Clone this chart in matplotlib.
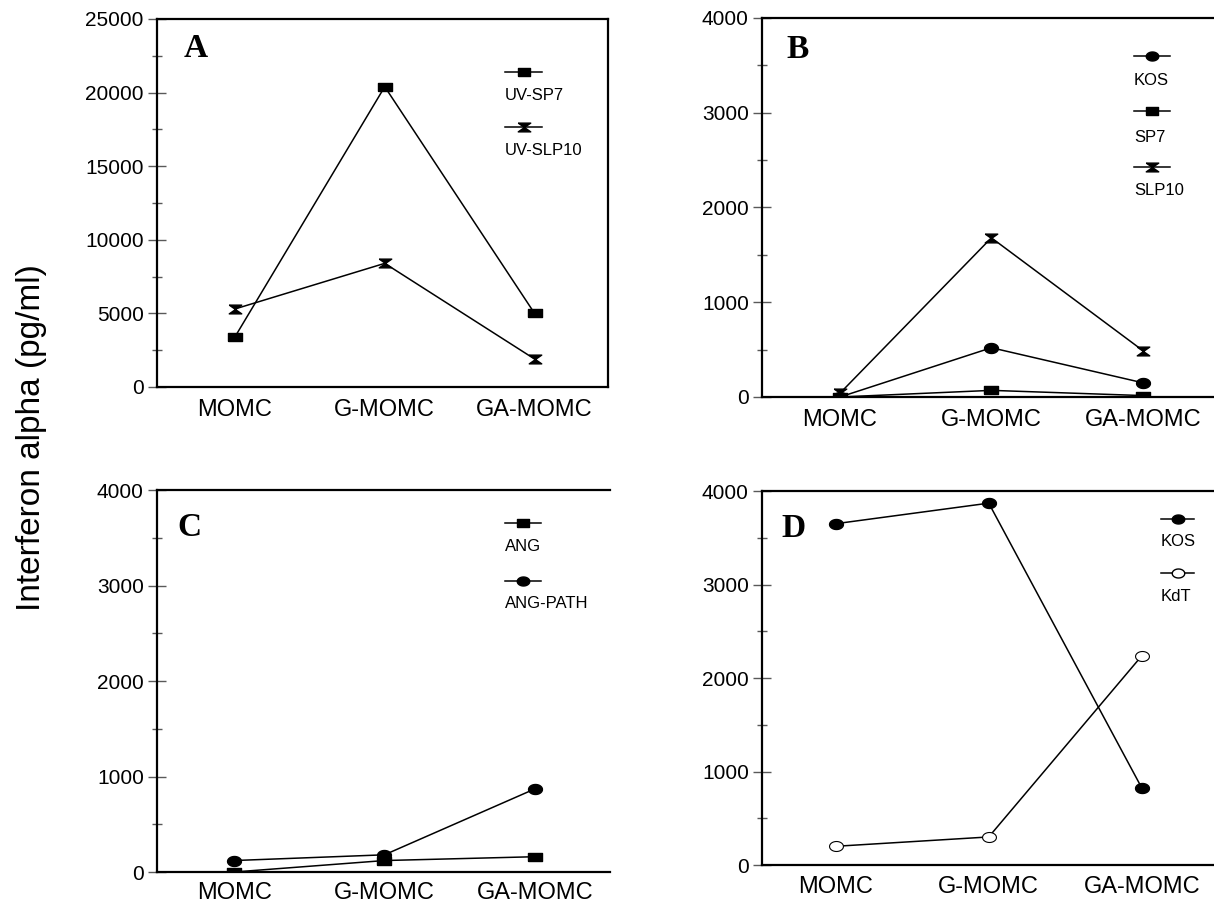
##libraries
import numpy as np
import matplotlib
matplotlib.use("Agg")
import matplotlib.pyplot as plt

plt.rcParams['font.family'] = ['Liberation Sans', 'DejaVu Sans']

##data (pg/ml)
groups = ['MOMC', 'G-MOMC', 'GA-MOMC']

a_uv_sp7 = [3400, 20400, 5000]
a_uv_slp10 = [5300, 8400, 1900]

b_kos = [0, 520, 150]
b_sp7 = [0, 70, 15]
b_slp10 = [40, 1680, 490]

c_ang = [0, 120, 160]
c_ang_path = [120, 180, 870]

d_kos = [3650, 3870, 820]
d_kdt = [200, 300, 2240]

##marker shapes
t = np.linspace(0, 2 * np.pi, 40)
oval = list(zip(np.cos(t), 0.72 * np.sin(t)))
box = [(-1, -0.62), (1, -0.62), (1, 0.62), (-1, 0.62), (-1, -0.62)]
hourglass = [(-1, 0.7), (1, 0.7), (-1, -0.7), (1, -0.7), (-1, 0.7)]

W, H = 1214, 905
fig = plt.figure(figsize=(W / 100, H / 100), dpi=100)


def make_ax(l, r, top, bot, ymax, step, xlim, right_spine, xpad=9):
    ax = fig.add_axes([l / W, 1 - bot / H, (r - l) / W, (bot - top) / H])
    ax.set_xlim(*xlim)
    ax.set_ylim(0, ymax)
    ax.set_yticks(np.arange(0, ymax + 1, step))
    ax.set_yticks(np.arange(step / 2, ymax, step), minor=True)
    ax.set_xticks(range(3))
    ax.set_xticklabels(groups)
    ax.tick_params(axis='x', length=0, pad=xpad, labelsize=17)
    ax.tick_params(axis='y', which='major', direction='inout', length=13,
                   width=1, color='0.35', labelsize=15, pad=3)
    ax.tick_params(axis='y', which='minor', direction='inout', length=7,
                   width=1, color='0.35')
    for s in ax.spines.values():
        s.set_linewidth(1.6)
    ax.spines['right'].set_visible(right_spine)
    return ax


def legend_entry(ax, x0, x1, y_line, y_text, label, marker, face='black', ms=9):
    ax.plot([x0, x1], [y_line, y_line], color='black', lw=1.1,
            transform=ax.transAxes, clip_on=False)
    ax.plot([(x0 + x1) / 2], [y_line], marker=marker, ms=ms, color='black',
            mfc=face, mew=1, transform=ax.transAxes, clip_on=False)
    ax.text(x0, y_text, label, transform=ax.transAxes, fontsize=12, va='center')


def panel_letter(ax, x0, y0, letter):
    ax.text(x0, y0, letter, transform=ax.transAxes, fontsize=24, fontweight='bold',
            family='Liberation Serif', va='center')


x = np.arange(3)
lw = 1.1

##panel A
ax = make_ax(157, 608, 19, 387, 25000, 5000, (-0.52, 2.49), True)
ax.plot(x, a_uv_sp7, color='black', lw=lw, marker=box, ms=10)
ax.plot(x, a_uv_slp10, color='black', lw=lw, marker=hourglass, ms=9)
panel_letter(ax, 0.058, 0.92, 'A')
legend_entry(ax, 0.772, 0.854, 0.856, 0.793, 'UV-SP7', box)
legend_entry(ax, 0.772, 0.854, 0.707, 0.644, 'UV-SLP10', hourglass)

##panel B
ax = make_ax(762, 1214, 18, 397, 4000, 1000, (-0.515, 2.47), False)
ax.plot(x, b_kos, color='black', lw=lw, marker=oval, ms=10)
ax.plot(x, b_sp7, color='black', lw=lw, marker=box, ms=10)
ax.plot(x, b_slp10, color='black', lw=lw, marker=hourglass, ms=9)
panel_letter(ax, 0.055, 0.918, 'B')
legend_entry(ax, 0.823, 0.903, 0.900, 0.836, 'KOS', oval)
legend_entry(ax, 0.823, 0.903, 0.755, 0.686, 'SP7', box)
legend_entry(ax, 0.823, 0.903, 0.607, 0.546, 'SLP10', hourglass)

##panel C
ax = make_ax(157, 610, 490, 872, 4000, 1000, (-0.513, 2.5), False, xpad=7)
ax.plot(x, c_ang, color='black', lw=lw, marker=box, ms=10)
ax.plot(x, c_ang_path, color='black', lw=lw, marker=oval, ms=10)
panel_letter(ax, 0.046, 0.903, 'C')
legend_entry(ax, 0.768, 0.848, 0.914, 0.851, 'ANG', box)
legend_entry(ax, 0.768, 0.848, 0.762, 0.702, 'ANG-PATH', oval)

##panel D
ax = make_ax(762, 1214, 491, 865, 4000, 1000, (-0.48, 2.47), False, xpad=8)
ax.plot(x, d_kos, color='black', lw=lw, marker=oval, ms=10)
ax.plot(x, d_kdt, color='black', lw=lw, marker=oval, ms=10, mfc='white', mew=0.8)
panel_letter(ax, 0.044, 0.90, 'D')
legend_entry(ax, 0.883, 0.956, 0.925, 0.866, 'KOS', oval)
legend_entry(ax, 0.883, 0.956, 0.781, 0.717, 'KdT', oval, face='white')

fig.text(0.026, 0.517, 'Interferon alpha (pg/ml)', rotation=90, fontsize=24,
         ha='center', va='center')

fig.savefig('out.png', dpi=100, facecolor='white')
